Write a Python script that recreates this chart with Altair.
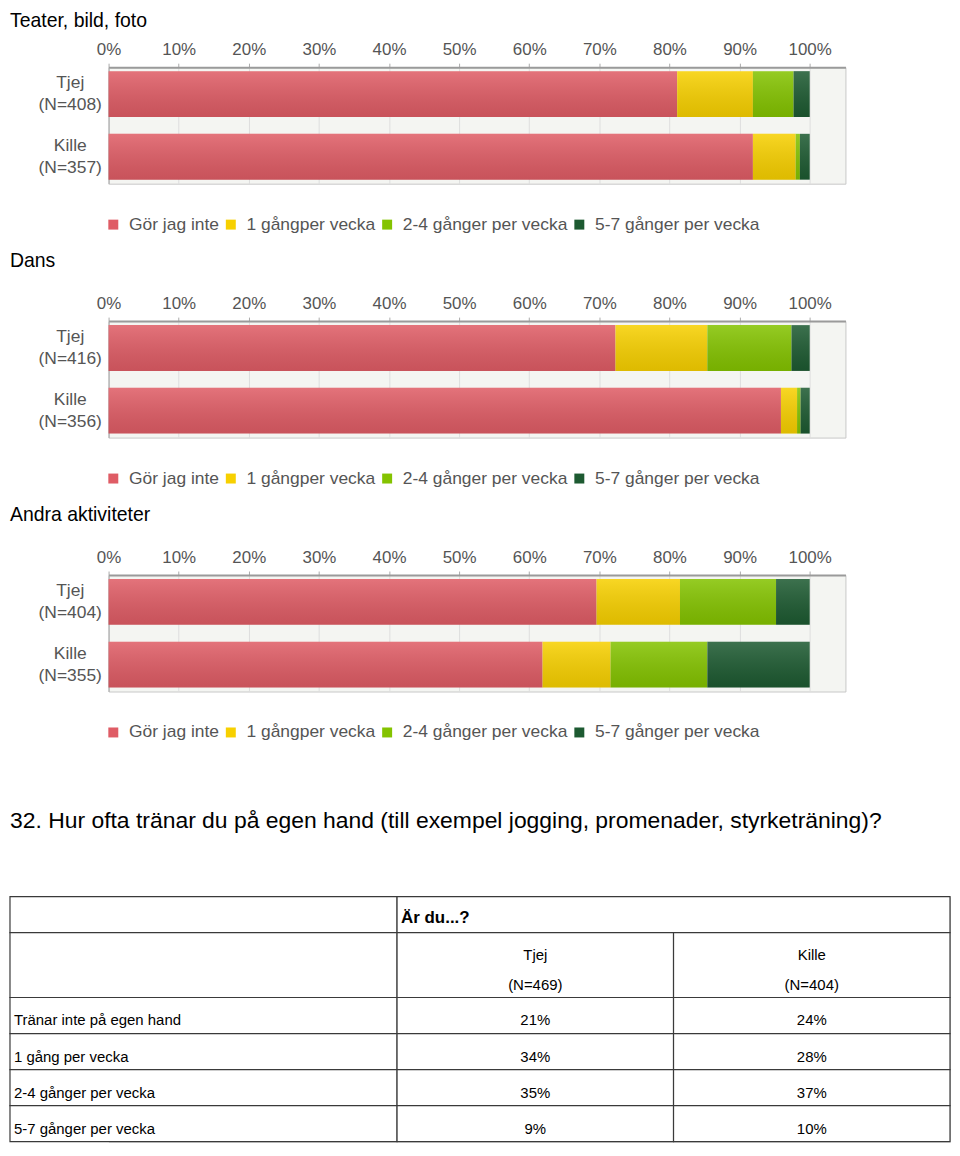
import altair as alt
import pandas as pd

# ---------------- data ----------------
categories = ["Gör jag inte", "1 gångper vecka", "2-4 gånger per vecka", "5-7 gånger per vecka"]
cat_colors = ["#df5c65", "#f7d000", "#84c300", "#1d5a31"]

teater_groups = ["Tjej\n(N=408)", "Kille\n(N=357)"]
teater_tjej = [81.1, 10.8, 5.8, 2.3]
teater_kille = [91.9, 6.1, 0.6, 1.4]

dans_groups = ["Tjej\n(N=416)", "Kille\n(N=356)"]
dans_tjej = [72.3, 13.1, 12.0, 2.6]
dans_kille = [95.9, 2.3, 0.5, 1.3]

andra_groups = ["Tjej\n(N=404)", "Kille\n(N=355)"]
andra_tjej = [69.6, 11.9, 13.7, 4.8]
andra_kille = [61.9, 9.7, 13.8, 14.6]

x_ticks = [0, 10, 20, 30, 40, 50, 60, 70, 80, 90, 100]

question = "32. Hur ofta tränar du på egen hand (till exempel jogging, promenader, styrketräning)?"
table_header = "Är du...?"
table_cols = ["Tjej\n(N=469)", "Kille\n(N=404)"]
table_rows = ["Tränar inte på egen hand", "1 gång per vecka", "2-4 gånger per vecka", "5-7 gånger per vecka"]
tjej_pct = [21, 34, 35, 9]
kille_pct = [24, 28, 37, 10]

FONT = "Liberation Sans"
LEFT = 99          # room left of the bar plots (labels, titles)
PLOT_W = 740
TABLE_W = 944
shade = alt.Gradient(
    gradient="linear", x1=0, y1=0, x2=0, y2=1,
    stops=[alt.GradientStop(color="rgba(255,255,255,0.14)", offset=0),
           alt.GradientStop(color="rgba(0,0,0,0.10)", offset=1)],
)


def bar_chart(title, groups, tjej, kille, title_offset):
    recs = []
    for g, vals in zip(groups, [tjej, kille]):
        for i, (c, v) in enumerate(zip(categories, vals)):
            recs.append({"grupp": g, "kategori": c, "ordning": i, "andel": v})
    df = pd.DataFrame(recs)
    yenc = alt.Y(
        "grupp:N", sort=groups, title=None,
        scale=alt.Scale(paddingInner=0.27, paddingOuter=0.065),
        axis=alt.Axis(labelExpr="split(datum.label, '\\n')", labelAlign="center",
                      labelBaseline="middle", labelPadding=39, labelOffset=-11, ticks=False,
                      domainColor="#a8a8a8", labelFontSize=17.5, labelColor="#555555",
                      labelFont=FONT, labelLineHeight=22),
    )
    xenc = alt.X(
        "andel:Q", stack="zero", title=None,
        scale=alt.Scale(domain=[0, 105.1], nice=False, zero=True),
        axis=alt.Axis(orient="top", values=x_ticks, labelExpr="datum.value + '%'",
                      labelFontSize=17, labelColor="#555555", labelFont=FONT,
                      labelPadding=5, tickSize=4, tickColor="#aaaaaa",
                      domainColor="#9a9a9a", domainWidth=2, gridColor="#dedede",
                      labelFlush=False),
    )
    bars = alt.Chart(df).mark_bar(size=46).encode(
        x=xenc, y=yenc,
        color=alt.Color("kategori:N",
                        scale=alt.Scale(domain=categories, range=cat_colors),
                        legend=alt.Legend(orient="none", legendX=-4, legendY=149,
                                          direction="horizontal", columns=4, title=None,
                                          symbolType="square", symbolSize=100,
                                          symbolStrokeWidth=0, labelFontSize=17.5,
                                          labelLimit=400, labelColor="#555555", labelFont=FONT,
                                          columnPadding=3, padding=0, labelOffset=7)),
        order=alt.Order("ordning:Q"),
    )
    gloss = alt.Chart(df).transform_aggregate(
        total="sum(andel)", groupby=["grupp"]
    ).mark_bar(color=shade, size=46).encode(
        x=alt.X("total:Q"), y=alt.Y("grupp:N", sort=groups),
    )
    return alt.layer(bars, gloss).properties(
        width=PLOT_W, height=117,
        title=alt.TitleParams(title, anchor="start", frame="group", dx=-LEFT, offset=title_offset,
                              fontSize=19.5, font=FONT, fontWeight="normal", color="#000000"),
    )


c1 = bar_chart("Teater, bild, foto", teater_groups, teater_tjej, teater_kille, 9)
c2 = bar_chart("Dans", dans_groups, dans_tjej, dans_kille, 23)
c3 = bar_chart("Andra aktiviteter", andra_groups, andra_tjej, andra_kille, 23)

# ---------------- table ----------------
col_edges = [0, 1.4, 2.4, 3.4]
row_edges = [0, 1, 2.8, 3.8, 4.8, 5.8, 6.8]

cells = []
texts = []
cells.append({"x": col_edges[0], "x2": col_edges[1], "y": row_edges[0], "y2": row_edges[1]})
cells.append({"x": col_edges[1], "x2": col_edges[3], "y": row_edges[0], "y2": row_edges[1]})
texts.append({"x": col_edges[1], "y": (row_edges[0] + row_edges[1]) / 2, "t": table_header, "kind": "head"})
cells.append({"x": col_edges[0], "x2": col_edges[1], "y": row_edges[1], "y2": row_edges[2]})
for j, lab in enumerate(table_cols):
    cells.append({"x": col_edges[j + 1], "x2": col_edges[j + 2], "y": row_edges[1], "y2": row_edges[2]})
    texts.append({"x": (col_edges[j + 1] + col_edges[j + 2]) / 2,
                  "y": (row_edges[1] + row_edges[2]) / 2, "t": lab, "kind": "colhead"})
for i, lab in enumerate(table_rows):
    r0, r1 = row_edges[i + 2], row_edges[i + 3]
    ym = (r0 + r1) / 2
    for j in range(3):
        cells.append({"x": col_edges[j], "x2": col_edges[j + 1], "y": r0, "y2": r1})
    texts.append({"x": col_edges[0], "y": ym, "t": lab, "kind": "left"})
    texts.append({"x": (col_edges[1] + col_edges[2]) / 2, "y": ym, "t": f"{tjej_pct[i]}%", "kind": "center"})
    texts.append({"x": (col_edges[2] + col_edges[3]) / 2, "y": ym, "t": f"{kille_pct[i]}%", "kind": "center"})

cells_df = pd.DataFrame(cells)
texts_df = pd.DataFrame(texts)

# the table's plot area is aligned with the bar plots; the first column reaches left of it
units_per_px = col_edges[-1] / TABLE_W
tx = alt.Scale(domain=[LEFT * units_per_px, col_edges[-1]], nice=False, zero=False)
ty = alt.Scale(domain=[0, row_edges[-1]], nice=False, zero=False, reverse=True)
X = alt.X("x:Q", scale=tx, axis=None)
Y = alt.Y("y:Q", scale=ty, axis=None)

grid = alt.Chart(cells_df).mark_rect(fill="#ffffff", stroke="#3a3a3a", strokeWidth=1.2).encode(
    x=X, x2="x2:Q", y=Y, y2="y2:Q",
)
txt_base = alt.Chart(texts_df).transform_calculate(lines="split(datum.t, '\\n')")
left_txt = txt_base.transform_filter("datum.kind == 'left'").mark_text(
    align="left", baseline="middle", dx=4, dy=5, font=FONT, fontSize=15, color="#000000"
).encode(x=X, y=Y, text="t:N")
center_txt = txt_base.transform_filter("datum.kind == 'center'").mark_text(
    align="center", baseline="middle", dy=5, font=FONT, fontSize=15, color="#000000"
).encode(x=X, y=Y, text="t:N")
colhead_txt = txt_base.transform_filter("datum.kind == 'colhead'").mark_text(
    align="center", baseline="middle", dy=-10, font=FONT, fontSize=15, color="#000000", lineHeight=30
).encode(x=X, y=Y, text="lines:N")
head_txt = txt_base.transform_filter("datum.kind == 'head'").mark_text(
    align="left", baseline="middle", dx=4, dy=3, font=FONT, fontSize=17, fontWeight="bold", color="#000000"
).encode(x=X, y=Y, text="t:N")

table = alt.layer(grid, left_txt, center_txt, colhead_txt, head_txt).properties(
    width=TABLE_W - LEFT, height=246,
    title=alt.TitleParams(question, anchor="start", frame="group", dx=-LEFT, offset=63, fontSize=23,
                          font=FONT, fontWeight="normal", color="#000000"),
)

bars_block = alt.concat(c1, c2, c3, columns=1, spacing=16).resolve_scale(color="independent")
chart = alt.vconcat(bars_block, table, spacing=67).resolve_scale(
    color="independent"
).properties(padding=0).configure_view(fill="#f4f5f2", stroke="#c8c8c8")

chart.save("out.html", embed_options={"renderer": "svg", "actions": False})
